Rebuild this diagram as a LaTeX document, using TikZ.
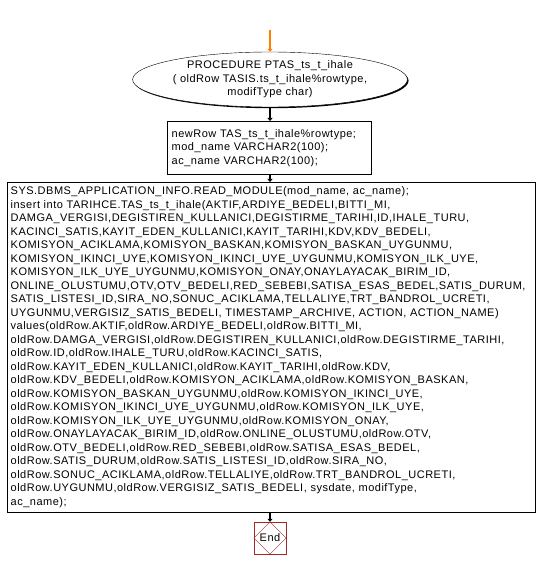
\documentclass[tikz,border=0pt]{standalone}
\usepackage{fontspec}
\setmainfont[LetterSpace=4.5]{Liberation Sans}
\usetikzlibrary{arrows.meta,shapes.geometric,shadows}

\begin{document}
\begin{tikzpicture}[x=1pt,y=-1pt,
    flow/.style={line width=2.4pt,-{Triangle[length=3pt,width=5pt]}},
    shade/.style={drop shadow={shadow xshift=1.2pt,shadow yshift=-1.2pt,opacity=1,fill=black}},
    txt/.style={font=\fontsize{11}{13.5}\selectfont},
    stmt/.style={draw,fill=white,shade,txt,align=left,anchor=north west}]
  \useasboundingbox (0,0) rectangle (537,569);
  \coordinate (start) at (270,30);
  \node[ellipse,draw,fill=white,shade,txt,minimum width=228pt,minimum height=55pt,inner sep=0pt,align=center]
    (proc) at (270,79.5) {PROCEDURE PTAS\_ts\_t\_ihale\\( oldRow TASIS.ts\_t\_ihale\%rowtype,\\modifType char)};
  \node[stmt,minimum width=204pt,minimum height=53pt,text width=195pt,inner xsep=4.5pt] (decl) at (167,121)
    {newRow TAS\_ts\_t\_ihale\%rowtype;\\mod\_name VARCHAR2(100);\\ac\_name VARCHAR2(100);};
  \node[stmt,minimum width=528pt,minimum height=330pt,text width=521pt,inner xsep=3pt,inner ysep=3pt] (body) at (7,182)
    {SYS.DBMS\_APPLICATION\_INFO.READ\_MODULE(mod\_name, ac\_name);\\
     insert into TARIHCE.TAS\_ts\_t\_ihale(AKTIF,ARDIYE\_BEDELI,BITTI\_MI,\\
     DAMGA\_VERGISI,DEGISTIREN\_KULLANICI,DEGISTIRME\_TARIHI,ID,IHALE\_TURU,\\
     KACINCI\_SATIS,KAYIT\_EDEN\_KULLANICI,KAYIT\_TARIHI,KDV,KDV\_BEDELI,\\
     KOMISYON\_ACIKLAMA,KOMISYON\_BASKAN,KOMISYON\_BASKAN\_UYGUNMU,\\
     KOMISYON\_IKINCI\_UYE,KOMISYON\_IKINCI\_UYE\_UYGUNMU,KOMISYON\_ILK\_UYE,\\
     KOMISYON\_ILK\_UYE\_UYGUNMU,KOMISYON\_ONAY,ONAYLAYACAK\_BIRIM\_ID,\\
     ONLINE\_OLUSTUMU,OTV,OTV\_BEDELI,RED\_SEBEBI,SATISA\_ESAS\_BEDEL,SATIS\_DURUM,\\
     SATIS\_LISTESI\_ID,SIRA\_NO,SONUC\_ACIKLAMA,TELLALIYE,TRT\_BANDROL\_UCRETI,\\
     UYGUNMU,VERGISIZ\_SATIS\_BEDELI, TIMESTAMP\_ARCHIVE, ACTION, ACTION\_NAME)\\
     values(oldRow.AKTIF,oldRow.ARDIYE\_BEDELI,oldRow.BITTI\_MI,\\
     oldRow.DAMGA\_VERGISI,oldRow.DEGISTIREN\_KULLANICI,oldRow.DEGISTIRME\_TARIHI,\\
     oldRow.ID,oldRow.IHALE\_TURU,oldRow.KACINCI\_SATIS,\\
     oldRow.KAYIT\_EDEN\_KULLANICI,oldRow.KAYIT\_TARIHI,oldRow.KDV,\\
     oldRow.KDV\_BEDELI,oldRow.KOMISYON\_ACIKLAMA,oldRow.KOMISYON\_BASKAN,\\
     oldRow.KOMISYON\_BASKAN\_UYGUNMU,oldRow.KOMISYON\_IKINCI\_UYE,\\
     oldRow.KOMISYON\_IKINCI\_UYE\_UYGUNMU,oldRow.KOMISYON\_ILK\_UYE,\\
     oldRow.KOMISYON\_ILK\_UYE\_UYGUNMU,oldRow.KOMISYON\_ONAY,\\
     oldRow.ONAYLAYACAK\_BIRIM\_ID,oldRow.ONLINE\_OLUSTUMU,oldRow.OTV,\\
     oldRow.OTV\_BEDELI,oldRow.RED\_SEBEBI,oldRow.SATISA\_ESAS\_BEDEL,\\
     oldRow.SATIS\_DURUM,oldRow.SATIS\_LISTESI\_ID,oldRow.SIRA\_NO,\\
     oldRow.SONUC\_ACIKLAMA,oldRow.TELLALIYE,oldRow.TRT\_BANDROL\_UCRETI,\\
     oldRow.UYGUNMU,oldRow.VERGISIZ\_SATIS\_BEDELI, sysdate, modifType,\\
     ac\_name);};
  \definecolor{endred}{RGB}{160,40,40}
  \node[draw=endred,txt,minimum size=32pt,inner sep=0pt] (stop) at (270,538) {End};
  \draw[endred] (stop.north) -- (stop.east) -- (stop.south) -- (stop.west) -- cycle;
  \draw[flow,orange] (start) -- (proc.north);
  \draw[flow] (proc.south) -- (proc.south |- decl.north);
  \draw[flow] (proc.south |- decl.south) -- (proc.south |- body.north);
  \draw[flow] (proc.south |- body.south) -- (stop.north);
\end{tikzpicture}
\end{document}
